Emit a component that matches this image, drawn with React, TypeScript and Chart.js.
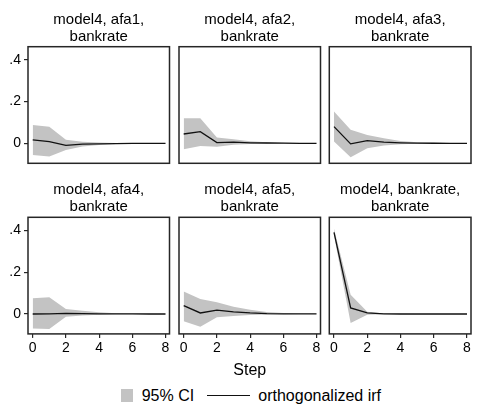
import React, { useEffect, useRef } from "react";
import { Chart, registerables } from "chart.js";

Chart.register(...registerables);

const FONT = "'Liberation Sans', Arial, Helvetica, sans-serif";

const STEPS = [0, 1, 2, 3, 4, 5, 6, 7, 8];
const X_TICKS = [0, 2, 4, 6, 8];
const Y_TICKS = [0, 0.2, 0.4];

const TITLES = [
  ["model4, afa1,", "bankrate"],
  ["model4, afa2,", "bankrate"],
  ["model4, afa3,", "bankrate"],
  ["model4, afa4,", "bankrate"],
  ["model4, afa5,", "bankrate"],
  ["model4, bankrate,", "bankrate"],
];

// afa1 -> bankrate
const IRF_1 = [0.017, 0.009, -0.009, -0.003, -0.002, -0.001, 0, 0, 0];
const HI_1 = [0.088, 0.08, 0.017, 0.008, 0.004, 0.002, 0.001, 0.0005, 0.0003];
const LO_1 = [-0.055, -0.063, -0.031, -0.015, -0.007, -0.003, -0.0015, -0.0007, -0.0003];

// afa2 -> bankrate
const IRF_2 = [0.045, 0.056, 0.004, 0.006, 0.003, 0.002, 0.001, 0.0005, 0.0002];
const HI_2 = [0.12, 0.12, 0.028, 0.02, 0.01, 0.005, 0.003, 0.0015, 0.0008];
const LO_2 = [-0.028, -0.012, -0.016, -0.006, -0.003, -0.001, -0.0006, -0.0003, -0.0001];

// afa3 -> bankrate
const IRF_3 = [0.08, -0.002, 0.013, 0.006, 0.003, 0.0015, 0.0007, 0.0003, 0.0001];
const HI_3 = [0.152, 0.065, 0.04, 0.025, 0.012, 0.006, 0.003, 0.0015, 0.0007];
const LO_3 = [0.009, -0.066, -0.023, -0.01, -0.004, -0.002, -0.001, -0.0005, -0.0002];

// afa4 -> bankrate
const IRF_4 = [0, 0.001, 0.003, 0.002, 0.001, 0.0005, 0.0002, 0.0001, 0];
const HI_4 = [0.075, 0.08, 0.024, 0.016, 0.008, 0.004, 0.002, 0.001, 0.0005];
const LO_4 = [-0.069, -0.072, -0.013, -0.007, -0.003, -0.0015, -0.0008, -0.0004, -0.0002];

// afa5 -> bankrate
const IRF_5 = [0.04, 0.005, 0.019, 0.01, 0.005, 0.002, 0.001, 0.0005, 0.0002];
const HI_5 = [0.107, 0.072, 0.056, 0.035, 0.02, 0.01, 0.005, 0.0025, 0.0012];
const LO_5 = [-0.035, -0.061, -0.016, -0.01, -0.005, -0.002, -0.001, -0.0005, -0.0002];

// bankrate -> bankrate
const IRF_6 = [0.39, 0.029, 0.005, 0.001, 0, 0, 0, 0, 0];
const HI_6 = [0.407, 0.092, 0.011, 0.003, 0.001, 0.0005, 0.0002, 0.0001, 0];
const LO_6 = [0.375, -0.043, -0.003, -0.001, -0.0005, -0.0002, -0.0001, 0, 0];

const SERIES = [
  [IRF_1, HI_1, LO_1],
  [IRF_2, HI_2, LO_2],
  [IRF_3, HI_3, LO_3],
  [IRF_4, HI_4, LO_4],
  [IRF_5, HI_5, LO_5],
  [IRF_6, HI_6, LO_6],
];

const LEGEND_LABELS = ["95% CI", "orthogonalized irf"];
const X_TITLE = "Step";

const CI_COLOR = "#c3c3c3";
const LINE_COLOR = "#111111";
const FRAME_COLOR = "#262626";

const fmtY = (v: number) =>
  v === 0 ? "0" : String(Math.round(v * 10) / 10).replace(/^0/, "").replace(/^-0/, "-");

const boxPlugin = {
  id: "frameBox",
  afterDatasetsDraw(chart: any) {
    const { ctx, chartArea: a } = chart;
    ctx.save();
    ctx.strokeStyle = FRAME_COLOR;
    ctx.lineWidth = 1.5;
    ctx.strokeRect(a.left, a.top, a.right - a.left, a.bottom - a.top);
    ctx.restore();
  },
};

const COL_LEFT = [0, 151, 301];
const COL_PAD_LEFT = [0, 0, 0.3];
const COL_PLOT_W = [141.5, 141.5, 141.7];
const Y_AXIS_W = 28;
const ROW_TOP = [0, 170];
const CANVAS_W = 174;
const ROW_H = [167, 211];
const ROW_PAD_BOTTOM = [3.7, 0.6];
const ROW_X_AXIS_H = [0, 46.5];
const ROW_TITLE_PAD_BOTTOM = [1.7, 2.3];

function Panel({ idx }: { idx: number }) {
  const ref = useRef<HTMLCanvasElement | null>(null);
  const row = Math.floor(idx / 3);
  const col = idx % 3;
  useEffect(() => {
    const [irf, hi, lo] = SERIES[idx];
    const pts = (arr: number[]) => STEPS.map((s, i) => ({ x: s, y: arr[i] }));
    const padLeft = COL_PAD_LEFT[col];
    const padRight = CANVAS_W - Y_AXIS_W - padLeft - COL_PLOT_W[col];
    const chart = new Chart(ref.current as HTMLCanvasElement, {
      type: "line",
      data: {
        datasets: [
          {
            label: LEGEND_LABELS[1],
            data: pts(irf),
            borderColor: LINE_COLOR,
            borderWidth: 1.3,
            pointRadius: 0,
            tension: 0,
            fill: false,
          },
          {
            label: LEGEND_LABELS[0],
            data: pts(hi),
            borderWidth: 0,
            borderColor: "rgba(0,0,0,0)",
            backgroundColor: CI_COLOR,
            pointRadius: 0,
            tension: 0,
            fill: "+1",
          },
          {
            label: "lower",
            data: pts(lo),
            borderWidth: 0,
            borderColor: "rgba(0,0,0,0)",
            pointRadius: 0,
            tension: 0,
            fill: false,
          },
        ],
      },
      options: {
        animation: false,
        responsive: false,
        maintainAspectRatio: false,
        devicePixelRatio: 1,
        events: [],
        layout: {
          padding: {
            left: padLeft,
            right: padRight,
            top: 0,
            bottom: ROW_PAD_BOTTOM[row],
          },
        },
        plugins: {
          legend: { display: false },
          tooltip: { enabled: false },
          title: {
            display: true,
            text: TITLES[idx],
            color: "#000",
            fullSize: false,
            font: { family: FONT, size: 15, weight: "normal", lineHeight: 17 / 15 },
            padding: { top: 11, bottom: ROW_TITLE_PAD_BOTTOM[row] },
          },
        },
        scales: {
          x: {
            type: "linear",
            min: -0.283,
            max: 8.24,
            display: row === 1,
            afterBuildTicks: (s: any) => {
              s.ticks = X_TICKS.map((v) => ({ value: v }));
            },
            afterFit: (s: any) => {
              s.height = ROW_X_AXIS_H[row];
              s.paddingLeft = 0;
              s.paddingRight = 0;
            },
            ticks: {
              autoSkip: false,
              maxRotation: 0,
              padding: 2,
              color: "#000",
              font: { family: FONT, size: 14 },
            },
            grid: {
              drawOnChartArea: false,
              drawTicks: true,
              tickLength: 4,
              color: FRAME_COLOR,
              lineWidth: 1.2,
            },
            border: { display: false },
            title: {
              display: row === 1 && col === 1,
              text: X_TITLE,
              color: "#000",
              font: { family: FONT, size: 16, weight: "normal" },
              padding: { top: 0, bottom: 0 },
            },
          },
          y: {
            type: "linear",
            min: -0.095,
            max: 0.462,
            display: col === 0,
            afterBuildTicks: (s: any) => {
              s.ticks = Y_TICKS.map((v) => ({ value: v }));
            },
            afterFit: (s: any) => {
              s.width = Y_AXIS_W;
              s.paddingTop = 0;
              s.paddingBottom = 0;
            },
            ticks: {
              padding: 3,
              color: "#000",
              font: { family: FONT, size: 14 },
              callback: (v: any) => fmtY(Number(v)),
            },
            grid: {
              drawOnChartArea: false,
              drawTicks: true,
              tickLength: 4,
              color: FRAME_COLOR,
              lineWidth: 1.2,
            },
            border: { display: false },
          },
        },
      },
      plugins: [boxPlugin],
    } as any);
    return () => chart.destroy();
  }, [idx]);
  return (
    <canvas
      ref={ref}
      width={CANVAS_W}
      height={ROW_H[row]}
      style={{
        position: "absolute",
        left: COL_LEFT[col],
        top: ROW_TOP[row],
        width: CANVAS_W,
        height: ROW_H[row],
      }}
    />
  );
}

export default function App() {
  const textStyle: React.CSSProperties = {
    position: "absolute",
    fontFamily: FONT,
    fontSize: 16,
    lineHeight: "16px",
    color: "#000",
    whiteSpace: "nowrap",
  };
  return (
    <div
      style={{
        position: "absolute",
        left: 0,
        top: 0,
        width: 477,
        height: 407,
        background: "#fff",
        overflow: "hidden",
      }}
    >
      {[0, 1, 2, 3, 4, 5].map((i) => (
        <Panel key={i} idx={i} />
      ))}
      <div
        style={{
          position: "absolute",
          left: 120.7,
          top: 389.3,
          width: 12.6,
          height: 12.4,
          background: CI_COLOR,
        }}
      />
      <div style={{ ...textStyle, left: 141.7, top: 387.5 }}>{LEGEND_LABELS[0]}</div>
      <div
        style={{
          position: "absolute",
          left: 207.3,
          top: 395,
          width: 42.7,
          height: 1.4,
          background: LINE_COLOR,
        }}
      />
      <div style={{ ...textStyle, left: 258.3, top: 387.5 }}>{LEGEND_LABELS[1]}</div>
    </div>
  );
}
